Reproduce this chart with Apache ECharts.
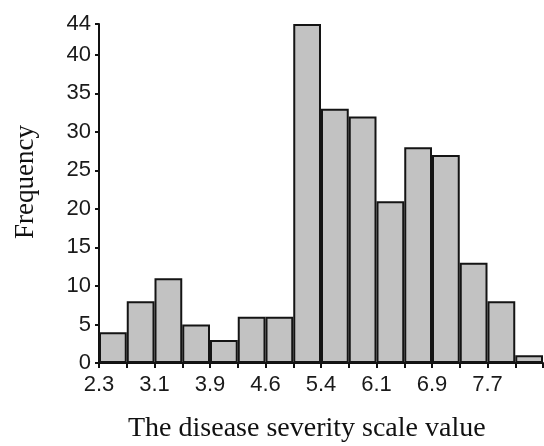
<!DOCTYPE html>
<html>
<head>
<meta charset="utf-8">
<script src="https://cdn.jsdelivr.net/npm/echarts@6/dist/echarts.min.js"></script>
<style>
html,body{margin:0;padding:0;background:#fff;}
#chart{width:544px;height:446px;}
</style>
</head>
<body>
<div id="chart"></div>
<script>
// Data
var binLabels = ['b1','b2','b3','b4','b5','b6','b7','b8','b9','b10','b11','b12','b13','b14','b15','b16'];
var frequencies = [4, 8, 11, 5, 3, 6, 6, 44, 33, 32, 21, 28, 27, 13, 8, 1];
var xTickLabels = ['2.3', '3.1', '3.9', '4.6', '5.4', '6.1', '6.9', '7.7'];
var yTickValues = [0, 5, 10, 15, 20, 25, 30, 35, 40, 44];
var xTitle = 'The disease severity scale value';
var yTitle = 'Frequency';

var nBins = frequencies.length;
var boundaryTicks = [];
for (var i = 0; i <= nBins; i++) boundaryTicks.push(i);
var labelPositions = xTickLabels.map(function (_, k) { return 2 * k; });

var chart = echarts.init(document.getElementById('chart'), null, {renderer: 'canvas'});
var serif = '"Liberation Serif", "Times New Roman", serif';
var tickFont = {fontFamily: '"Liberation Sans", Arial, sans-serif', fontSize: 22, color: '#1a1a1a'};
chart.setOption({
  animation: false,
  backgroundColor: '#fff',
  title: {
    text: xTitle,
    left: 123,
    top: 410,
    textStyle: {fontFamily: serif, fontSize: 28, fontWeight: 'normal', color: '#111'}
  },
  graphic: [{
    type: 'text',
    x: 26,
    y: 182,
    rotation: Math.PI / 2,
    style: {text: yTitle, font: '27px ' + serif, fill: '#111', textAlign: 'center', textVerticalAlign: 'middle'}
  }],
  grid: {left: 99, right: 1, top: 24, bottom: 83, containLabel: false},
  xAxis: [
    {
      type: 'category',
      data: binLabels,
      boundaryGap: true,
      axisLine: {show: true, lineStyle: {color: '#111', width: 2}},
      axisTick: {show: false},
      axisLabel: {show: false},
      splitLine: {show: false}
    },
    {
      type: 'value',
      min: 0,
      max: nBins,
      position: 'bottom',
      axisLine: {show: false},
      axisTick: {show: true, customValues: boundaryTicks, length: 5, lineStyle: {color: '#111', width: 2}},
      axisLabel: {
        show: true,
        customValues: labelPositions,
        margin: 11,
        formatter: function (v) { return xTickLabels[Math.round(v / 2)]; },
        fontFamily: tickFont.fontFamily, fontSize: tickFont.fontSize, color: tickFont.color
      },
      splitLine: {show: false}
    }
  ],
  yAxis: {
    type: 'value',
    min: 0,
    max: 44,
    axisLine: {show: true, lineStyle: {color: '#111', width: 2}},
    axisTick: {show: true, customValues: yTickValues, length: 4, lineStyle: {color: '#111', width: 2}},
    axisLabel: {
      show: true,
      customValues: yTickValues,
      margin: 8,
      fontFamily: tickFont.fontFamily, fontSize: tickFont.fontSize, color: tickFont.color
    },
    splitLine: {show: false}
  },
  series: [{
    type: 'bar',
    xAxisIndex: 0,
    data: frequencies,
    barCategoryGap: '0%',
    itemStyle: {color: '#c2c2c2', borderColor: '#141414', borderWidth: 2}
  }]
});
</script>
</body>
</html>
